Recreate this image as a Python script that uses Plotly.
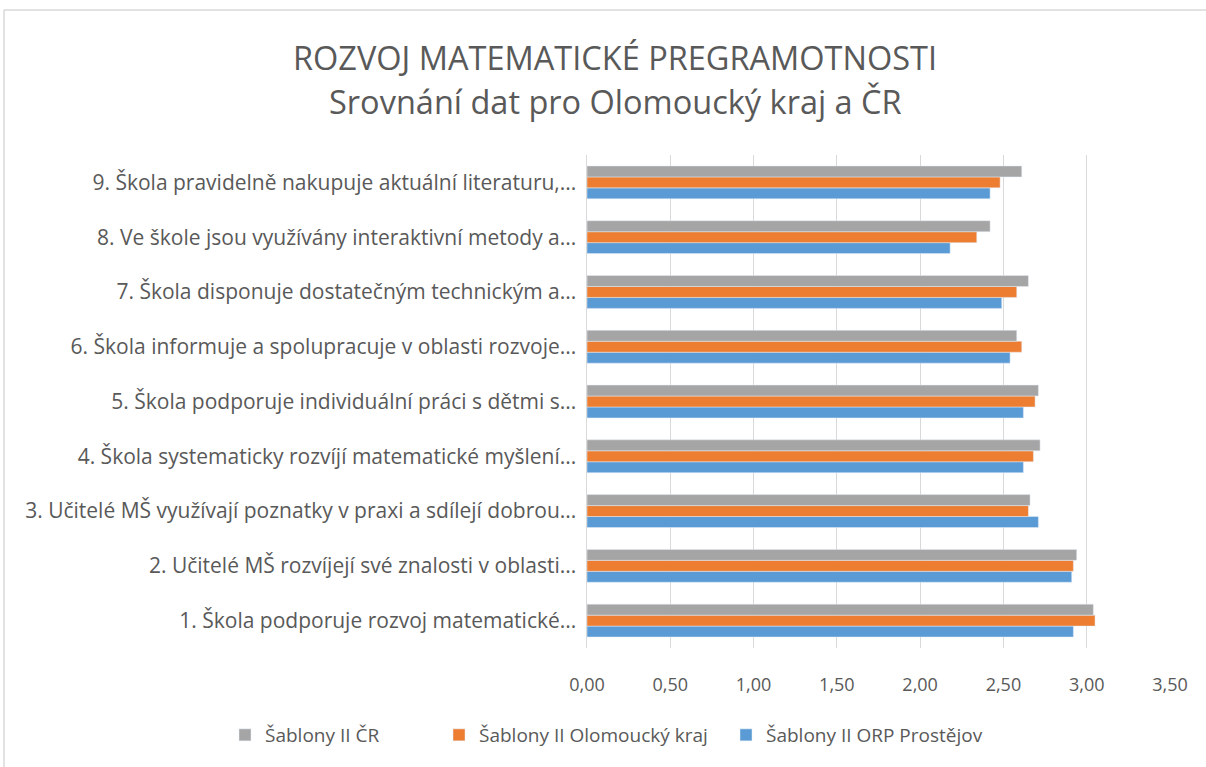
import plotly.graph_objects as go

categories = [
    "1. Škola podporuje rozvoj matematické...",
    "2. Učitelé MŠ rozvíjejí své znalosti v oblasti...",
    "3. Učitelé MŠ využívají poznatky v praxi a sdílejí dobrou...",
    "4. Škola systematicky rozvíjí matematické myšlení...",
    "5. Škola podporuje individuální práci s dětmi s...",
    "6. Škola informuje a spolupracuje v oblasti rozvoje...",
    "7. Škola disponuje dostatečným technickým a...",
    "8. Ve škole jsou využívány interaktivní metody a...",
    "9. Škola pravidelně nakupuje aktuální literaturu,...",
]
orp_prostejov = [2.92, 2.91, 2.71, 2.62, 2.62, 2.54, 2.49, 2.18, 2.42]
olomoucky_kraj = [3.05, 2.92, 2.65, 2.68, 2.69, 2.61, 2.58, 2.34, 2.48]
cr = [3.04, 2.94, 2.66, 2.72, 2.71, 2.58, 2.65, 2.42, 2.61]
x_ticks = [0, 0.5, 1.0, 1.5, 2.0, 2.5, 3.0, 3.5]
title_lines = ["ROZVOJ MATEMATICKÉ PREGRAMOTNOSTI", "Srovnání dat pro Olomoucký kraj a ČR"]
series_names = ["Šablony II ORP Prostějov", "Šablony II Olomoucký kraj", "Šablony II ČR"]
series_colors = ["#5B9BD5", "#ED7D31", "#A5A5A5"]

FONT = "Open Sans"
TXT = "#595959"
W, H = 1206, 767
ML, MR, MT, MB = 587, 36, 155, 119
PH = H - MT - MB
PW = W - ML - MR


def py(pix):
    return (H - MB - pix) / PH


def px(pix):
    return (pix - ML) / PW


# legend square centres (pixels) for each series, same order as series_names
legend_square_x = [748, 461, 247]
LEG_Y = 735

fig = go.Figure()
for i, (vals, name, col) in enumerate(zip([orp_prostejov, olomoucky_kraj, cr],
                                          series_names, series_colors)):
    fig.add_trace(go.Bar(y=categories, x=vals, orientation="h", name=name,
                         marker_color=col,
                         legend="legend" if i == 0 else f"legend{i + 1}"))

legend_common = dict(orientation="h", xref="container", yref="container",
                     xanchor="left", yanchor="middle",
                     font=dict(size=19, color=TXT, family=FONT),
                     bgcolor="rgba(0,0,0,0)", borderwidth=0)
legends = {}
for i, sx in enumerate(legend_square_x):
    key = "legend" if i == 0 else f"legend{i + 1}"
    legends[key] = dict(legend_common, x=(sx - 22) / W, y=(H - LEG_Y) / H)

fig.update_layout(
    width=W, height=H,
    separators=", ",
    barmode="group", bargap=0.4, bargroupgap=0,
    paper_bgcolor="white", plot_bgcolor="white",
    margin=dict(l=ML, r=MR, t=MT, b=MB, autoexpand=False),
    font=dict(family=FONT, color=TXT, size=16),
    xaxis=dict(range=[0, 3.5], tickvals=x_ticks, tickformat=".2f",
               showgrid=True, gridcolor="#D9D9D9", gridwidth=1,
               zeroline=False, showline=False, ticks="", automargin=False,
               ticklabelstandoff=24,
               tickfont=dict(size=18, color=TXT)),
    yaxis=dict(showline=True, linecolor="#D9D9D9", linewidth=1, automargin=False,
               ticks="", showgrid=False, ticksuffix=" ",
               tickfont=dict(size=21, color=TXT)),
    showlegend=True,
    **legends,
)

for text, ypix in zip(title_lines, [57, 101]):
    fig.add_annotation(text=text, xref="paper", yref="paper",
                       x=px(615), y=py(ypix), xanchor="center", yanchor="middle",
                       showarrow=False, font=dict(family=FONT, size=32.5, color=TXT))

fig.add_shape(type="line", xref="paper", yref="paper",
              x0=px(4), x1=px(1206), y0=py(10), y1=py(10),
              line=dict(color="#D9D9D9", width=1.5))
fig.add_shape(type="line", xref="paper", yref="paper",
              x0=px(4), x1=px(4), y0=py(10), y1=py(767),
              line=dict(color="#D9D9D9", width=1.5))

fig.write_html("out.html", config={"displayModeBar": False},
               post_script="document.body.style.margin='0px';document.body.style.overflow='hidden';")
